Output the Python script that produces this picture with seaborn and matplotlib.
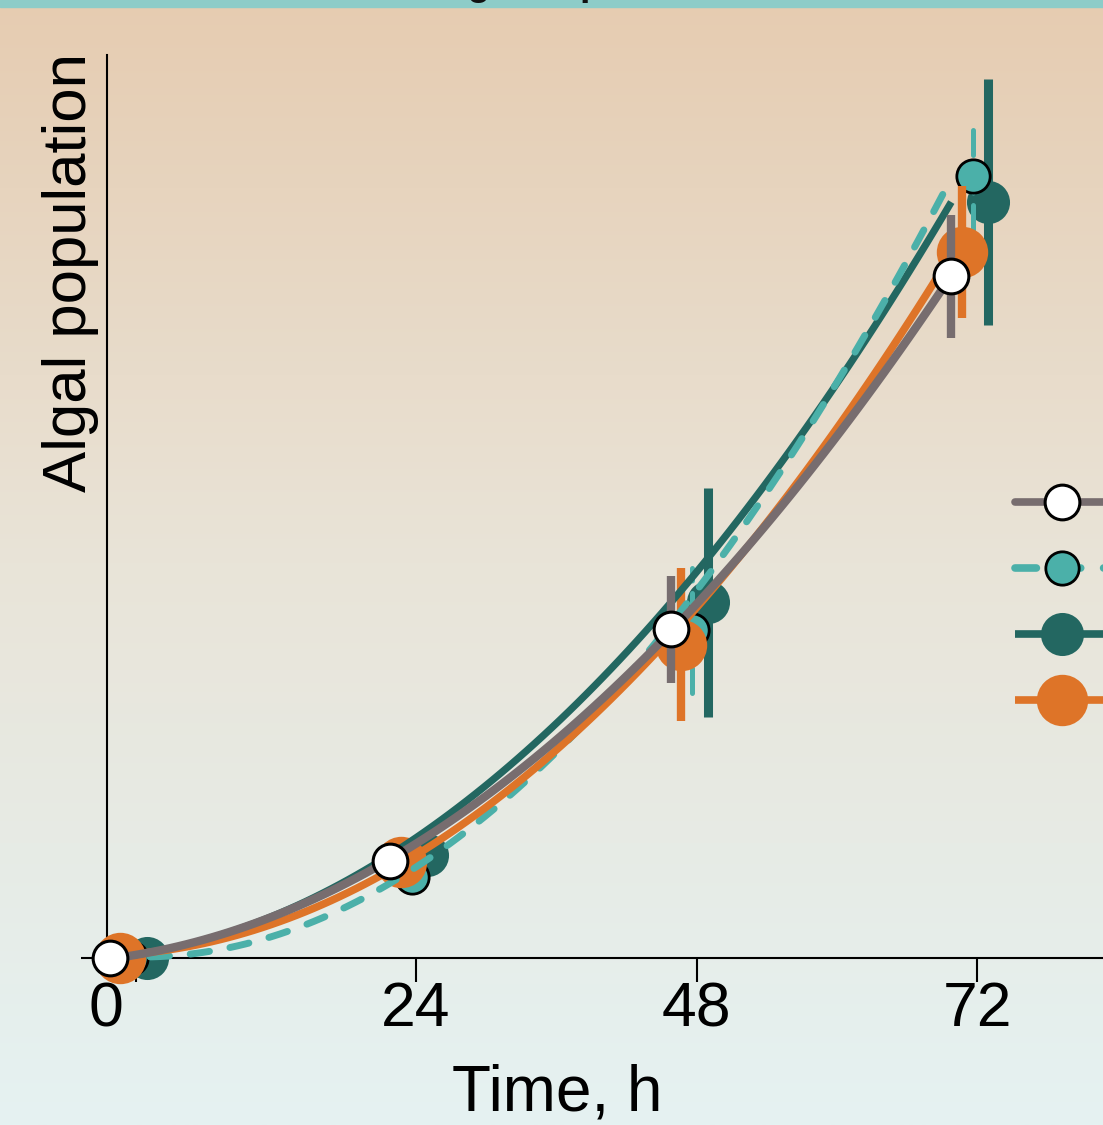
import numpy as np
import matplotlib
matplotlib.use("Agg")
import matplotlib.pyplot as plt
import matplotlib.transforms as mtransforms
from matplotlib.lines import Line2D
from matplotlib.patches import Rectangle
import seaborn as sns

# ---------------- data ----------------
time_h = [0, 24, 48, 72]
x_tick_labels = ["0", "24", "48", "72"]
series_names = ["Control", "Low light", "High light", "Nutrient enriched"]
pop_control = [0.0, 10.7, 36.4, 75.5]
pop_low = [0.0, 9.0, 36.3, 86.6]
pop_high = [0.0, 11.4, 39.4, 83.7]
pop_nutr = [0.0, 10.6, 34.7, 78.2]
err_control = [0.0, 1.5, 5.9, 6.8]
err_low = [0.0, 1.5, 6.9, 6.0]
err_high = [0.0, 1.5, 12.7, 13.6]
err_nutr = [0.0, 1.5, 8.5, 7.3]
title_text = "Algal Population Growth"
x_label = "Time, h"
y_label = "Algal population"

# ---------------- style ----------------
sns.set_theme(style="ticks")
plt.rcParams["font.family"] = ["Liberation Sans", "DejaVu Sans"]

GRAY = "#776D6F"
TEAL = "#4BB0A9"
DTEAL = "#236761"
ORANGE = "#DE7428"

W, H = 1103, 1125
fig = plt.figure(figsize=(W / 100, H / 100), dpi=100)

# gradient background
bg = fig.add_axes([0, 0, 1, 1], zorder=-10)
stops = np.array([[0xE6, 0xCC, 0xB1], [0xE9, 0xE4, 0xD8], [0xE5, 0xF2, 0xF2]]) / 255.0
t = np.linspace(0, 1, 400)
grad = np.empty((400, 1, 3))
for c in range(3):
    grad[:, 0, c] = np.interp(t, [0, 0.5, 1], stops[:, c])
bg.imshow(grad, aspect="auto", extent=[0, 1, 0, 1], origin="upper")
bg.set_axis_off()

# top band + title (mostly above the visible area, as in the reference crop)
fig.patches.append(Rectangle((0, 1 - 7 / H), 1, 7 / H, transform=fig.transFigure,
                             color="#8DCCC8", zorder=-5))
fig.text(430 / W, 1 + 5 / H, title_text, ha="left", va="baseline",
         fontsize=27, fontweight="bold", color="#111111")

ax = fig.add_axes([107 / W, (H - 958) / H, 1 - 107 / W, (958 - 55) / H])
ax.patch.set_alpha(0)

px_per_h = 11.6875
line_shift = -2.2
series = [
    dict(name=series_names[2], y=pop_high, e=err_high, c=DTEAL, dodge=0.95, ls="-", lw=5.2,
         ms=31, mfc=DTEAL, mec=DTEAL, mew=0, elw=6.5, z=3.0),
    dict(name=series_names[1], y=pop_low, e=err_low, c=TEAL, dodge=-0.35, ls=(0, (2.8, 3.0)), lw=5.0,
         ms=24, mfc=TEAL, mec="black", mew=2.0, elw=3.6, z=3.1),
    dict(name=series_names[3], y=pop_nutr, e=err_nutr, c=ORANGE, dodge=-1.3, ls="-", lw=5.5,
         ms=37, mfc=ORANGE, mec=ORANGE, mew=0, elw=6.0, z=3.2),
    dict(name=series_names[0], y=pop_control, e=err_control, c=GRAY, dodge=-2.2, ls="-", lw=6.0,
         ms=25, mfc="white", mec="black", mew=2.2, elw=6.0, z=4.4),
]

tarr = np.array(time_h, dtype=float)
for i, s in enumerate(series):
    xd = tarr + s["dodge"]
    eb = ax.errorbar(xd, s["y"], yerr=s["e"], fmt="none", ecolor=s["c"],
                     elinewidth=s["elw"], capsize=0, zorder=s["z"], clip_on=False)
    for coll in eb.lines[2]:
        coll.set_capstyle("butt")
        if s["name"] == series_names[1]:
            coll.set_linestyle((0, (5, 2.5)))
            coll.set_capstyle("round")
    ax.plot(xd, s["y"], linestyle="none", marker="o", ms=s["ms"], mfc=s["mfc"],
            mec=s["mec"], mew=s["mew"], zorder=s["z"] + 0.05, clip_on=False)
    sns.regplot(x=tarr + line_shift, y=np.array(s["y"]), order=2, ci=None, scatter=False,
                ax=ax, color=s["c"],
                line_kws=dict(lw=s["lw"], linestyle=s["ls"], zorder=4.0 + 0.1 * i,
                              solid_capstyle="butt", dash_capstyle="round", clip_on=False))

ax.set_xlim((107 - 135.5) / px_per_h, (1103 - 135.5) / px_per_h)
ax.set_ylim(0, 100)
ax.set_xticks(time_h, x_tick_labels)
ax.set_yticks([0], [""])
for side in ["top", "right"]:
    ax.spines[side].set_visible(False)
for side in ["left", "bottom"]:
    ax.spines[side].set_linewidth(1.5)
    ax.spines[side].set_color("black")
ax.tick_params(axis="x", length=17, width=1.5, color="black", pad=-1, labelsize=45,
               labelcolor="black")
ax.tick_params(axis="y", length=19, width=1.5, color="black")
lbl0 = ax.get_xticklabels()[0]
lbl0.set_transform(lbl0.get_transform() + mtransforms.ScaledTranslation(-0.30, 0, fig.dpi_scale_trans))

ax.set_xlabel(x_label, fontsize=46, color="black")
ax.xaxis.set_label_coords((557 - 107) / (W - 107), -0.117)
ax.set_ylabel(y_label, fontsize=44.5, color="black")
ax.yaxis.set_label_coords(-0.008, (958 - 272) / 903)

# legend: only the handles fall inside the visible crop (labels lie beyond the right edge)
order = [series[3], series[1], series[0], series[2]]
handles = []
for s in order:
    handles.append(Line2D([], [], color=s["c"], lw=5.5, linestyle=s["ls"],
                          solid_capstyle="round" if s["c"] == GRAY else "butt",
                          dash_capstyle="round",
                          marker="o", ms=s["ms"], mfc=s["mfc"], mec=s["mec"], mew=s["mew"]))
leg = ax.legend(handles, ["" for _ in order],
                loc="upper left", bbox_to_anchor=(1015 / W, (H - 486) / H),
                bbox_transform=fig.transFigure, frameon=False, fontsize=30,
                handlelength=2.26, handletextpad=0.5, borderpad=0, borderaxespad=0,
                labelspacing=0.62, numpoints=1)

fig.savefig("out.png", dpi=100)
